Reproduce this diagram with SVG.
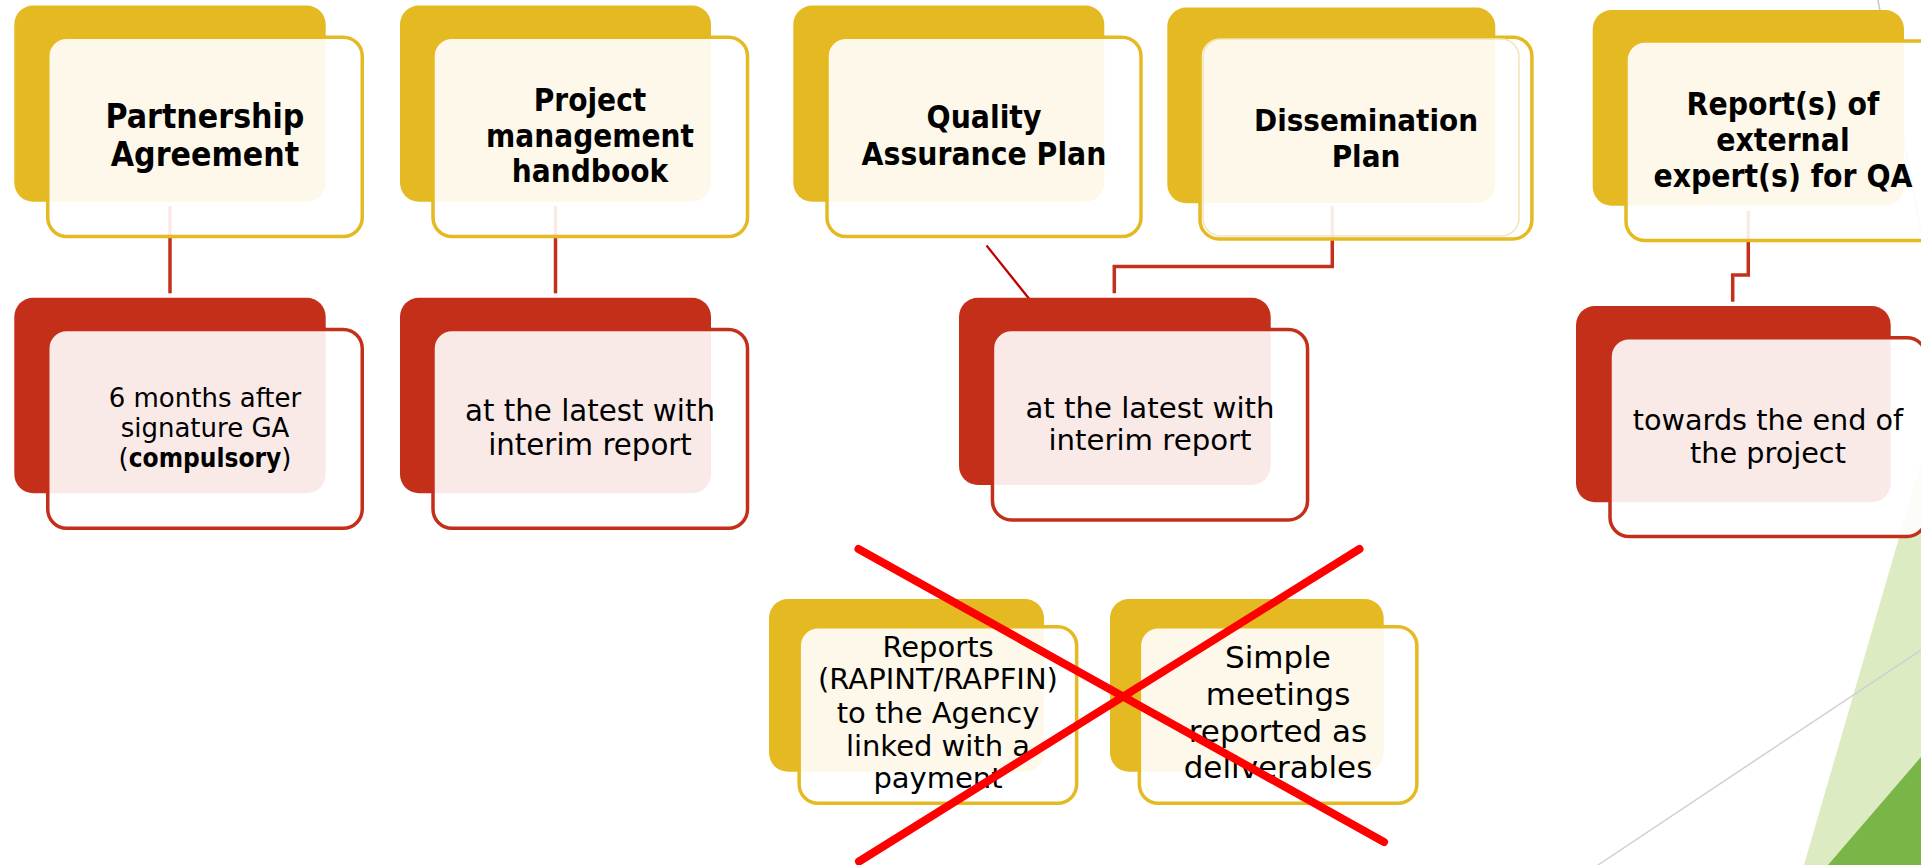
<svg xmlns="http://www.w3.org/2000/svg" width="1921" height="865" viewBox="0 0 1921 865">
<style>
.yb{fill:#E5B921}
.rb{fill:#C42F1A}
.yf{fill:#fff;fill-opacity:0.9;stroke:#E5B921;stroke-width:3.5}
.rf{fill:#fff;fill-opacity:0.9;stroke:#C42F1A;stroke-width:3.5}
.t{font-family:"DejaVu Sans Condensed","DejaVu Sans",sans-serif;font-weight:bold;font-stretch:condensed;text-anchor:middle;fill:#000}
.r{font-family:"DejaVu Sans",sans-serif;text-anchor:middle;fill:#000}
.b{font-family:"DejaVu Sans Condensed","DejaVu Sans",sans-serif;font-weight:bold;font-stretch:condensed}
.c{fill:none;stroke:#C3301B;stroke-width:3.5}
.x{stroke:#FF0000;stroke-width:8;stroke-linecap:round}
</style>
<rect width="1921" height="865" fill="#fff"/>
<g id="decor">
<polygon points="1921,462 1804,865 1921,865" fill="#DDEBC2"/>
<polygon points="1921,757 1828,865 1921,865" fill="#7AB547"/>
<line x1="1921" y1="650" x2="1598" y2="865" stroke="#D0D0D0" stroke-width="1.5"/>
<line x1="1878" y1="0" x2="1921" y2="233" stroke="#C8C8C8" stroke-width="1.5"/>
</g>
<g id="connectors">
<line class="c" x1="170" y1="206" x2="170" y2="293.3"/>
<line class="c" x1="555.5" y1="206" x2="555.5" y2="293.3"/>
<line x1="986.5" y1="245.5" x2="1029.3" y2="299" stroke="#C00000" stroke-width="2.2"/>
<polyline class="c" points="1332.3,206 1332.3,266.5 1114.3,266.5 1114.3,293.3"/>
<polyline class="c" points="1748.3,210.7 1748.3,275 1732.7,275 1732.7,301.7"/>
</g>
<g id="node-partnership">
<rect class="yb" x="14.3" y="5.5" width="311.4" height="196.2" rx="19"/>
<rect class="yf" x="47.75" y="37.25" width="314.5" height="199.3" rx="19"/>
<text class="t" font-size="33.5"><tspan x="205" y="128.3">Partnership</tspan><tspan x="205" y="165.7">Agreement</tspan></text>
</g>
<g id="node-handbook">
<rect class="yb" x="400" y="5.5" width="311" height="196.2" rx="19"/>
<rect class="yf" x="433" y="37.25" width="314.5" height="199.3" rx="19"/>
<text class="t" font-size="31.2"><tspan x="590" y="110.5">Project</tspan><tspan x="590" y="146.6">management</tspan><tspan x="590" y="182.3">handbook</tspan></text>
</g>
<g id="node-qa">
<rect class="yb" x="793.3" y="5.5" width="311" height="196.2" rx="19"/>
<rect class="yf" x="827" y="37.25" width="314" height="199.3" rx="19"/>
<text class="t" font-size="31.5"><tspan x="984" y="128.3">Quality</tspan><tspan x="984" y="164.5">Assurance Plan</tspan></text>
</g>
<g id="node-dissemination">
<rect class="yb" x="1167.3" y="7.6" width="328" height="195.7" rx="19"/>
<rect class="yf" x="1200" y="37.25" width="331.9" height="201.7" rx="19"/>
<rect x="1203" y="39" width="316" height="197" rx="18" fill="none" stroke="#F2E4B8" stroke-width="1.5"/>
<text class="t" font-size="31"><tspan x="1366" y="130.7">Dissemination</tspan><tspan x="1366" y="166.7">Plan</tspan></text>
</g>
<g id="node-experts">
<rect class="yb" x="1592.7" y="10" width="311.3" height="195.7" rx="19"/>
<rect class="yf" x="1626" y="41" width="314.5" height="199.5" rx="19"/>
<text class="t" font-size="31.5"><tspan x="1783" y="115">Report(s) of</tspan><tspan x="1783" y="150.7">external</tspan><tspan x="1783" y="186.7">expert(s) for QA</tspan></text>
</g>
<g id="node-6months">
<rect class="rb" x="14.3" y="297.7" width="311.4" height="195.6" rx="19"/>
<rect class="rf" x="47.75" y="329.45" width="314.5" height="198.8" rx="19"/>
<text class="r" font-size="26"><tspan x="205" y="406.7">6 months after</tspan><tspan x="205" y="436.7">signature GA</tspan><tspan x="205" y="466.7">(<tspan class="b">compulsory</tspan>)</tspan></text>
</g>
<g id="node-interim1">
<rect class="rb" x="400" y="297.7" width="311" height="195.6" rx="19"/>
<rect class="rf" x="433" y="329.45" width="314.5" height="198.8" rx="19"/>
<text class="r" font-size="29.3"><tspan x="590" y="421.4">at the latest with</tspan><tspan x="590" y="454.5">interim report</tspan></text>
</g>
<g id="node-interim2">
<rect class="rb" x="959" y="297.7" width="311.7" height="187.3" rx="19"/>
<rect class="rf" x="992.45" y="329.45" width="315.1" height="190.5" rx="19"/>
<text class="r" font-size="29.2"><tspan x="1150" y="417.7">at the latest with</tspan><tspan x="1150" y="450">interim report</tspan></text>
</g>
<g id="node-end">
<rect class="rb" x="1576" y="306" width="314.7" height="196.3" rx="19"/>
<rect class="rf" x="1610" y="337.75" width="316" height="198.8" rx="19"/>
<text class="r" font-size="28.7"><tspan x="1768" y="430">towards the end of</tspan><tspan x="1768" y="462.7">the project</tspan></text>
</g>
<g id="node-reports">
<rect class="yb" x="769" y="599" width="275" height="172.7" rx="19"/>
<rect class="yf" x="799.15" y="626.75" width="277.5" height="176.5" rx="19"/>
<text class="r" font-size="29"><tspan x="938" y="656.7">Reports</tspan><tspan x="938" y="689">(RAPINT/RAPFIN)</tspan><tspan x="938" y="722.5">to the Agency</tspan><tspan x="938" y="755.5">linked with a</tspan><tspan x="938" y="788.3">payment</tspan></text>
</g>
<g id="node-meetings">
<rect class="yb" x="1110" y="599" width="273.7" height="172.7" rx="19"/>
<rect class="yf" x="1139.35" y="626.75" width="277.5" height="176.5" rx="19"/>
<text class="r" font-size="31"><tspan x="1278" y="668.3">Simple</tspan><tspan x="1278" y="705">meetings</tspan><tspan x="1278" y="741.7">reported as</tspan><tspan x="1278" y="778.3">deliverables</tspan></text>
</g>
<g id="cross">
<line class="x" x1="858.5" y1="549" x2="1384" y2="842"/>
<line class="x" x1="1359.5" y1="549" x2="859" y2="861.5"/>
</g>
</svg>
